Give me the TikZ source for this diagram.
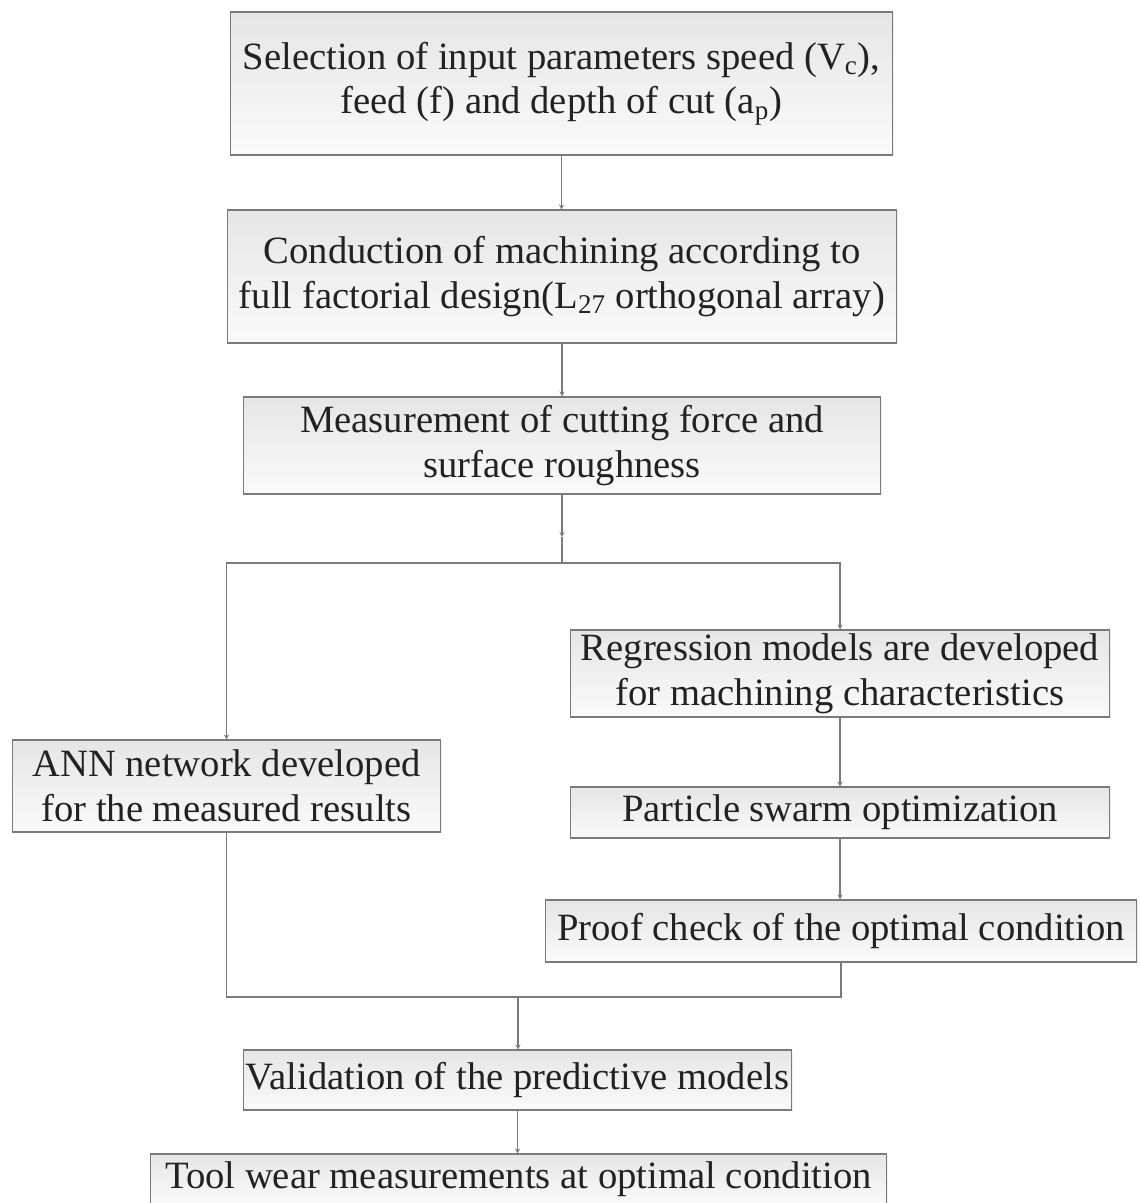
\documentclass[tikz,border=0pt]{standalone}
\usepackage{fontspec}
\setmainfont{Liberation Serif}
\usetikzlibrary{arrows.meta,shadows}

\definecolor{edgegray}{HTML}{7A7A7A}
\definecolor{inkgray}{HTML}{222222}

\begin{document}
\begin{tikzpicture}[
    x=0.02cm, y=-0.02cm,
    box/.style={draw=edgegray, line width=0.6pt, top color=black!10, bottom color=black!2,
        drop shadow={shadow xshift=0.8pt, shadow yshift=-0.8pt, fill=black!12},
        align=center, inner sep=0pt, text=inkgray,
        font=\fontsize{22}{25.6}\selectfont},
    arrow/.style={-{Stealth[length=1mm, width=1mm]}, draw=edgegray, line width=0.6pt},
    link/.style={draw=edgegray, line width=0.6pt}
]
\useasboundingbox (0,0) rectangle (1139,1203);

\node[box, minimum width=13.26cm, minimum height=2.86cm] (select) at (561.5,83.5)
    {Selection of input parameters speed (V\textsubscript{c}),\\ feed (f) and depth of cut (a\textsubscript{p})};
\node[box, minimum width=13.4cm, minimum height=2.66cm] (machining) at (562,276.5)
    {Conduction of machining according to\\ full factorial design(L\textsubscript{27} orthogonal array)};
\node[box, minimum width=12.76cm, minimum height=1.94cm] (measure) at (562,445.5)
    {Measurement of cutting force and\\ surface roughness};
\node[box, minimum width=10.8cm, minimum height=1.74cm] (regression) at (840,673.5)
    {Regression models are developed\\ for machining characteristics};
\node[box, minimum width=8.58cm, minimum height=1.84cm] (ann) at (226.5,786)
    {ANN network developed\\ for the measured results};
\node[box, minimum width=10.8cm, minimum height=1.02cm] (pso) at (840,812.5)
    {Particle swarm optimization};
\node[box, minimum width=11.84cm, minimum height=1.24cm] (proof) at (841,931)
    {Proof check of the optimal condition};
\node[box, minimum width=10.98cm, minimum height=1.2cm] (validate) at (517.5,1080)
    {Validation of the predictive models};
\node[box, minimum width=14.74cm, minimum height=1.0cm] (toolwear) at (518.5,1179)
    {Tool wear measurements at optimal condition};

\coordinate (splittip) at (562,537);
\coordinate (split) at (562,563);
\coordinate (merge) at (518,997);

\draw[arrow] (select.south) -- (select.south |- machining.north);
\draw[arrow] (machining.south) -- (machining.south |- measure.north);
\draw[arrow] (measure.south) -- (splittip);
\draw[link] (splittip) -- (split);
\draw[arrow] (split) -| (ann.north);
\draw[arrow] (split) -| (regression.north);
\draw[arrow] (regression.south) -- (regression.south |- pso.north);
\draw[arrow] (pso.south) -- (pso.south |- proof.north);
\draw[link] (ann.south) |- (merge) -| (proof.south);
\draw[arrow] (merge) -- (merge |- validate.north);
\draw[arrow] (validate.south) -- (validate.south |- toolwear.north);

\end{tikzpicture}
\end{document}
